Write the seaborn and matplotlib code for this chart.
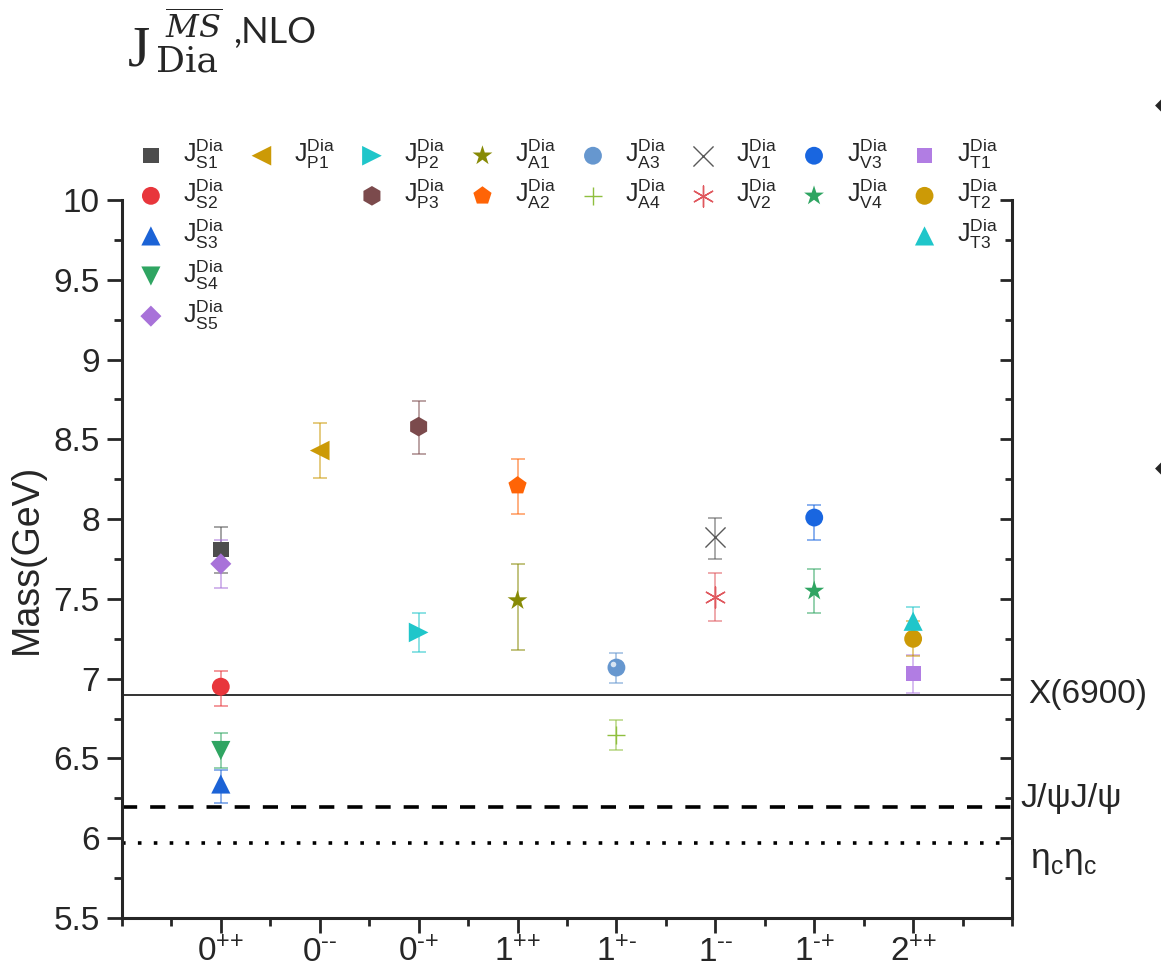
import matplotlib
matplotlib.use("Agg")
import matplotlib.pyplot as plt
import matplotlib.transforms as mtransforms
from matplotlib.lines import Line2D
from matplotlib.ticker import MultipleLocator, FuncFormatter
import seaborn as sns

# ---- data -------------------------------------------------------------
categories = [r"$\mathregular{0^{{+}{+}}}$", r"$\mathregular{0^{\text{--}}}$",
              r"$\mathregular{0^{\text{-}{+}}}$", r"$\mathregular{1^{{+}{+}}}$",
              r"$\mathregular{1^{{+}\text{-}}}$", r"$\mathregular{1^{\text{--}}}$",
              r"$\mathregular{1^{\text{-}{+}}}$", r"$\mathregular{2^{{+}{+}}}$"]

currents = ["S1", "S2", "S3", "S4", "S5", "P1", "P2", "P3", "A1", "A2",
            "A3", "A4", "V1", "V2", "V3", "V4", "T1", "T2", "T3"]
channel = [1, 1, 1, 1, 1, 2, 3, 3, 4, 4, 5, 5, 6, 6, 7, 7, 8, 8, 8]
mass = [7.81, 6.95, 6.34, 6.55, 7.72, 8.43, 7.29, 8.58, 7.49, 8.21,
        7.07, 6.65, 7.89, 7.51, 8.01, 7.55, 7.03, 7.25, 7.36]
err_low = [0.15, 0.12, 0.12, 0.11, 0.15, 0.17, 0.12, 0.17, 0.31, 0.18,
           0.10, 0.10, 0.14, 0.15, 0.14, 0.14, 0.12, 0.11, 0.09]
err_high = [0.14, 0.10, 0.09, 0.11, 0.15, 0.17, 0.12, 0.16, 0.23, 0.17,
            0.09, 0.09, 0.12, 0.15, 0.08, 0.14, 0.12, 0.11, 0.09]

thresholds = [6.90, 6.194, 5.968]
threshold_names = ["X(6900)", "J/ψJ/ψ", r"η$_\mathregular{c}$η$_\mathregular{c}$"]

# ---- styles -------------------------------------------------------------
colors = {"S1": "#4d4d4d", "S2": "#e8363c", "S3": "#1c63d6", "S4": "#2fa562",
          "S5": "#a872d9", "P1": "#cc9a06", "P2": "#1fc6ca", "P3": "#7b4a4c",
          "A1": "#878a05", "A2": "#ff6406", "A3": "#6697cf", "A4": "#8fbf3f",
          "V1": "#595959", "V2": "#e0585e", "V3": "#1966e0", "V4": "#2fa562",
          "T1": "#b17de3", "T2": "#cc9a06", "T3": "#1fc6ca"}
markers = {"S1": "s", "S2": "o", "S3": "^", "S4": "v", "S5": "D",
           "P1": "<", "P2": ">", "P3": "h", "A1": "*", "A2": "p",
           "A3": "o", "A4": "+", "V1": "x", "V2": (6, 2, 0), "V3": "o",
           "V4": "*", "T1": "s", "T2": "o", "T3": "^"}
sizes = {"S1": 125, "S2": 165, "S3": 190, "S4": 190, "S5": 115,
         "P1": 200, "P2": 200, "P3": 200, "A1": 225, "A2": 190,
         "A3": 165, "A4": 160, "V1": 210, "V2": 230, "V3": 165,
         "V4": 225, "T1": 115, "T2": 165, "T3": 190}
line_markers = {"A4", "V1", "V2"}

sns.set_theme(style="ticks")
plt.rcParams["font.family"] = ["Liberation Sans", "DejaVu Sans"]
plt.rcParams["mathtext.fontset"] = "custom"
plt.rcParams["mathtext.rm"] = "Liberation Sans"

fig = plt.figure(figsize=(11.61, 9.73), dpi=100)
ax = fig.add_axes([0.105, 0.0565, 0.7667, 0.7379])

for i, name in enumerate(currents):
    c = colors[name]
    ax.errorbar(channel[i], mass[i], yerr=[[err_low[i]], [err_high[i]]],
                fmt="none", ecolor=c, alpha=0.55, elinewidth=1.3,
                capsize=4.7, capthick=1.3, zorder=2)
    kw = dict(marker=markers[name], s=sizes[name], color=c, zorder=3,
              label=rf"$\mathregular{{J^{{Dia}}_{{{name}}}}}$", ax=ax, legend=False)
    if name in line_markers:
        kw["linewidth"] = 1.0
    else:
        kw["edgecolor"] = "none"
    sns.scatterplot(x=[channel[i]], y=[mass[i]], **kw)
    if name == "A3":
        glint = mtransforms.offset_copy(ax.transData, fig=fig, x=-2.5, y=2.5, units="points")
        ax.plot(channel[i], mass[i], "o", ms=4, color="white", alpha=0.75,
                transform=glint, zorder=4, mec="none")

# reference lines
ax.axhline(thresholds[0], color="#333333", lw=1.4, zorder=1)
ax.axhline(thresholds[1], color="black", lw=2.6, ls=(0, (4.2, 3.6)), zorder=1)
ax.axhline(thresholds[2], color="black", lw=2.6, ls=(0, (1, 3.4)), zorder=1)

lab_tr = mtransforms.blended_transform_factory(ax.transAxes, ax.transData)
ax.text(1.018, 6.90, threshold_names[0], transform=lab_tr, fontsize=24, va="center")
ax.text(1.009, 6.25, threshold_names[1], transform=lab_tr, fontsize=24.5, va="center")
ax.text(1.020, 5.86, threshold_names[2], transform=lab_tr, fontsize=25.5, va="center")

# axes
ax.set_xlim(0, 9)
ax.set_ylim(5.5, 10)
ax.set_xticks(range(1, 9))
ax.set_xticklabels(categories)
ax.xaxis.set_minor_locator(MultipleLocator(0.5))
ax.yaxis.set_major_locator(MultipleLocator(0.5))
ax.yaxis.set_minor_locator(MultipleLocator(0.25))
ax.yaxis.set_major_formatter(FuncFormatter(lambda v, p: f"{v:g}"))
ax.set_ylabel("Mass(GeV)", fontsize=27, labelpad=6)
ax.set_xlabel("")
ax.tick_params(axis="both", which="major", labelsize=24, length=11, width=2, direction="out")
ax.tick_params(axis="both", which="minor", length=5.5, width=2, direction="out")
ax.tick_params(axis="x", pad=3)
ax.tick_params(axis="y", pad=5)
for side in ("left", "bottom", "right"):
    ax.spines[side].set_linewidth(2.2)
ax.spines["top"].set_visible(False)
ax.spines["right"].set_visible(False)

right = ax.secondary_yaxis("right")
right.spines["right"].set_linewidth(2.2)
right.yaxis.set_major_locator(MultipleLocator(0.5))
right.yaxis.set_minor_locator(MultipleLocator(0.25))
right.tick_params(which="major", direction="in", length=9, width=2, labelright=False)
right.tick_params(which="minor", direction="in", length=5, width=2)

# legend: eight columns of five rows, with blank slots
handles, labels = ax.get_legend_handles_labels()
hmap = dict(zip(labels, handles))
blank = Line2D([], [], linestyle="none", marker=None)
columns = [["S1", "S2", "S3", "S4", "S5"], ["P1"], ["P2", "P3"], ["A1", "A2"],
           ["A3", "A4"], ["V1", "V2"], ["V3", "V4"], ["T1", "T2", "T3"]]
leg_h, leg_l = [], []
for col in columns:
    for k in range(5):
        if k < len(col):
            lab = rf"$\mathregular{{J^{{Dia}}_{{{col[k]}}}}}$"
            leg_h.append(hmap[lab]); leg_l.append(lab)
        else:
            leg_h.append(blank); leg_l.append("")
fig.legend(leg_h, leg_l, ncol=8, loc="upper left",
           bbox_to_anchor=(0.1192, 0.859), frameon=False, fontsize=18,
           borderpad=0, borderaxespad=0, handlelength=1.0, handletextpad=0.8,
           columnspacing=0.98, labelspacing=0.24, markerscale=1.0)

# heading
def px(x, y):
    return x / 1161, 1 - y / 973

fig.text(*px(128, 66), "J", fontsize=41, family="Liberation Serif", va="baseline")
fig.text(*px(165, 39), r"$\overline{MS}$", fontsize=23, math_fontfamily="dejavuserif", va="baseline")
fig.text(*px(233, 43), ",NLO", fontsize=26, family="Lato", va="baseline")
fig.text(*px(156, 72), "Dia", fontsize=26, family="DejaVu Serif", va="baseline")

# fragments of neighbouring page content at the right edge
fig.text(*px(1163, 105), "◆", fontsize=15, family="DejaVu Sans", ha="center", va="center")
fig.text(*px(1163, 468), "◆", fontsize=15, family="DejaVu Sans", ha="center", va="center")

fig.savefig("out.png", dpi=100)
